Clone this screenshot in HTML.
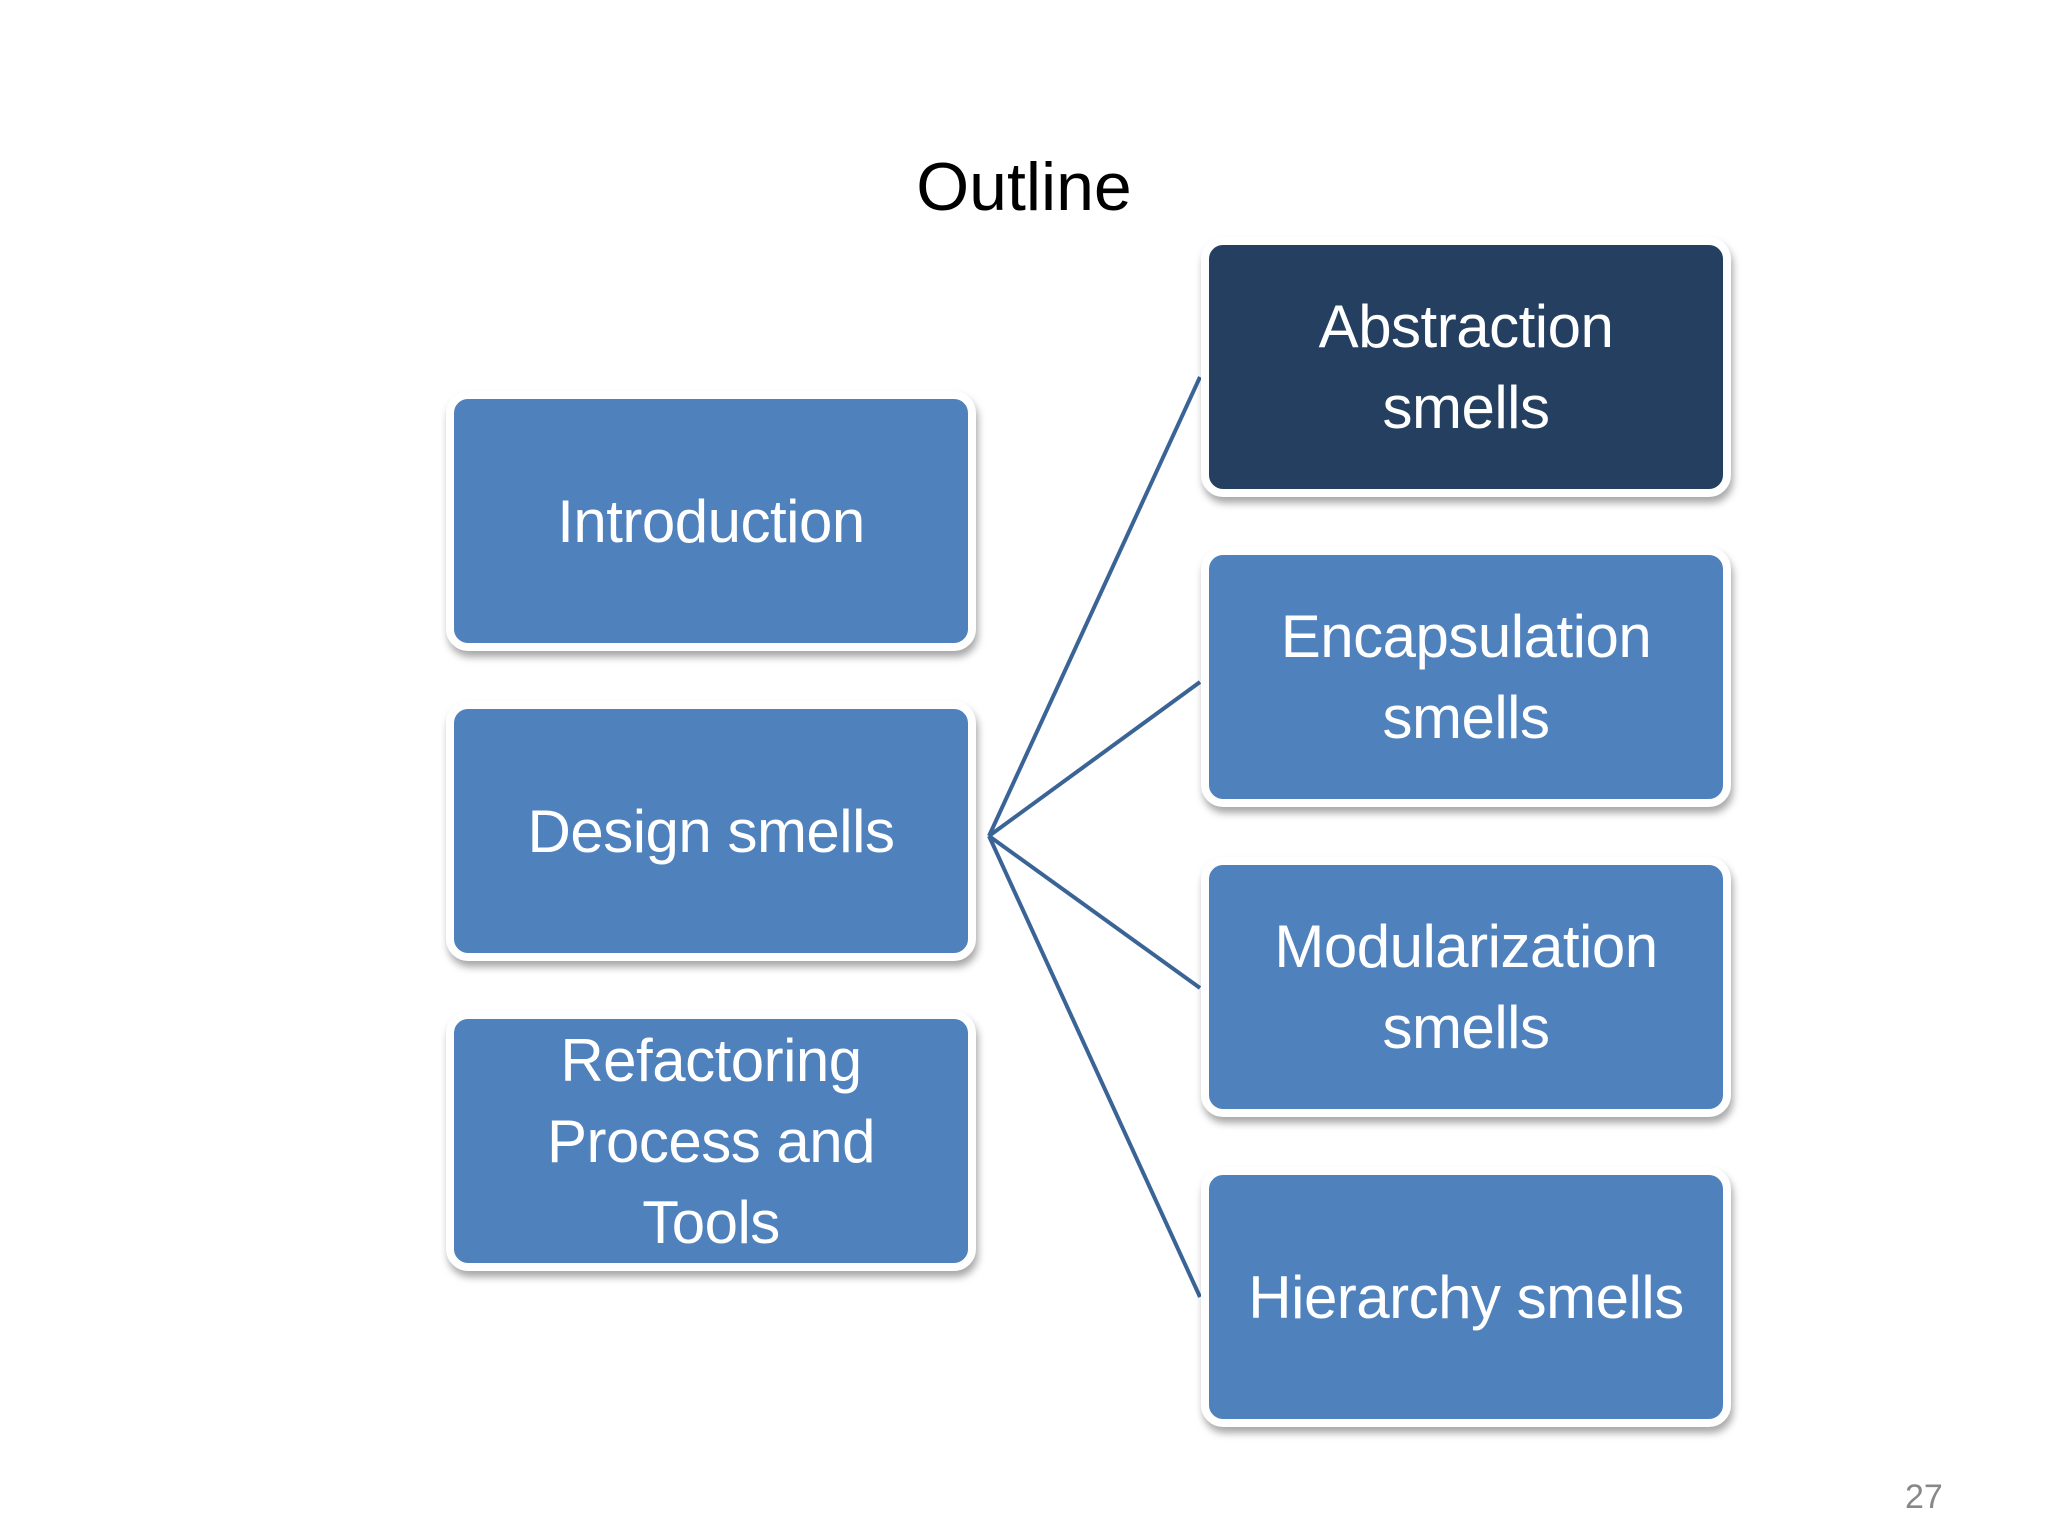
<!DOCTYPE html>
<html><head><style>
body{margin:0;width:2048px;height:1536px;background:#fff;position:relative;overflow:hidden;font-family:"Liberation Sans",sans-serif}
.t{position:absolute;left:0;width:2048px;top:148px;text-align:center;font-size:68px;color:#000}
.b{position:absolute;width:530px;height:260px;background:#4f81bd;border:8px solid #fff;border-radius:22px;box-shadow:2px 6px 8px rgba(0,0,0,0.35);box-sizing:border-box;display:flex;align-items:center;justify-content:center;text-align:center;color:#fff;font-size:60px;line-height:81px;letter-spacing:-0.5px}
.d{background:#243f60}
.n{position:absolute;left:1905px;top:1478px;font-size:34px;color:#888}
svg{position:absolute;left:0;top:0}
</style></head><body>
<div class="t">Outline</div>
<svg width="2048" height="1536"><g stroke="#3b6496" stroke-width="4" fill="none">
<line x1="989" y1="836" x2="1200" y2="377"/>
<line x1="989" y1="836" x2="1200" y2="682"/>
<line x1="989" y1="836" x2="1200" y2="988"/>
<line x1="989" y1="836" x2="1200" y2="1297"/>
</g></svg>
<div class="b" style="left:446px;top:391px">Introduction</div>
<div class="b" style="left:446px;top:701px">Design smells</div>
<div class="b" style="left:446px;top:1011px">Refactoring<br>Process and<br>Tools</div>
<div class="b d" style="left:1201px;top:237px">Abstraction<br>smells</div>
<div class="b" style="left:1201px;top:547px">Encapsulation<br>smells</div>
<div class="b" style="left:1201px;top:857px">Modularization<br>smells</div>
<div class="b" style="left:1201px;top:1167px">Hierarchy smells</div>
<div class="n">27</div>
</body></html>
